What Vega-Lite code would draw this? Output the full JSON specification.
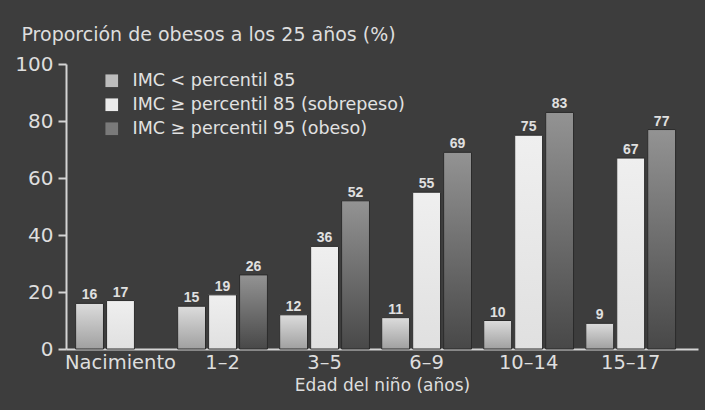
{
  "$schema": "https://vega.github.io/schema/vega-lite/v6.json",
  "width": 632,
  "height": 285,
  "autosize": {"type": "none"},
  "padding": {"left": 66, "top": 64, "right": 7, "bottom": 61},
  "background": "#3d3d3d",
  "config": {
    "view": {"stroke": null},
    "font": "DejaVu Sans",
    "axis": {"domainColor": "#d4d4d4", "domainWidth": 2, "tickColor": "#d4d4d4", "tickWidth": 2, "labelColor": "#dedede", "titleColor": "#dedede", "grid": false, "labelFont": "DejaVu Sans", "titleFont": "DejaVu Sans", "titleFontWeight": "normal"}
  },
  "data": {
    "values": [
      {"edad": "Nacimiento", "serie": "IMC < percentil 85", "valor": 16},
      {"edad": "Nacimiento", "serie": "IMC ≥ percentil 85 (sobrepeso)", "valor": 17},
      {"edad": "1–2", "serie": "IMC < percentil 85", "valor": 15},
      {"edad": "1–2", "serie": "IMC ≥ percentil 85 (sobrepeso)", "valor": 19},
      {"edad": "1–2", "serie": "IMC ≥ percentil 95 (obeso)", "valor": 26},
      {"edad": "3–5", "serie": "IMC < percentil 85", "valor": 12},
      {"edad": "3–5", "serie": "IMC ≥ percentil 85 (sobrepeso)", "valor": 36},
      {"edad": "3–5", "serie": "IMC ≥ percentil 95 (obeso)", "valor": 52},
      {"edad": "6–9", "serie": "IMC < percentil 85", "valor": 11},
      {"edad": "6–9", "serie": "IMC ≥ percentil 85 (sobrepeso)", "valor": 55},
      {"edad": "6–9", "serie": "IMC ≥ percentil 95 (obeso)", "valor": 69},
      {"edad": "10–14", "serie": "IMC < percentil 85", "valor": 10},
      {"edad": "10–14", "serie": "IMC ≥ percentil 85 (sobrepeso)", "valor": 75},
      {"edad": "10–14", "serie": "IMC ≥ percentil 95 (obeso)", "valor": 83},
      {"edad": "15–17", "serie": "IMC < percentil 85", "valor": 9},
      {"edad": "15–17", "serie": "IMC ≥ percentil 85 (sobrepeso)", "valor": 67},
      {"edad": "15–17", "serie": "IMC ≥ percentil 95 (obeso)", "valor": 77}
    ]
  },
  "encoding": {
    "x": {
      "field": "edad", "type": "nominal", "sort": null,
      "scale": {"paddingInner": 0.12, "paddingOuter": 0.157, "align": 0.3},
      "axis": {"labelAngle": 0, "labelFontSize": 19.5, "labelPadding": 4, "ticks": false, "title": "Edad del niño (años)", "titleFontSize": 17, "titlePadding": 6}
    },
    "xOffset": {
      "field": "serie", "type": "nominal",
      "scale": {"domain": ["IMC < percentil 85", "IMC ≥ percentil 85 (sobrepeso)", "IMC ≥ percentil 95 (obeso)"], "paddingInner": 0.1, "paddingOuter": 0}
    },
    "y": {
      "field": "valor", "type": "quantitative",
      "scale": {"domain": [0, 100], "nice": false},
      "axis": {"values": [0, 20, 40, 60, 80, 100], "tickSize": 8, "labelFontSize": 20, "labelPadding": 5, "title": "Proporción de obesos a los 25 años (%)", "titleAngle": 0, "titleAlign": "left", "titleBaseline": "alphabetic", "titleX": -45, "titleY": -24, "titleFontSize": 19}
    }
  },
  "layer": [
    {
      "mark": {"type": "bar"},
      "encoding": {
        "color": {
          "field": "serie", "type": "nominal",
          "scale": {"domain": ["IMC < percentil 85", "IMC ≥ percentil 85 (sobrepeso)", "IMC ≥ percentil 95 (obeso)"], "range": ["#bdbdbd", "#ebebeb", "#7a7a7a"]},
          "legend": {"title": null, "orient": "none", "legendX": 37, "legendY": 8, "symbolType": "square", "symbolSize": 160, "symbolStrokeWidth": 0, "labelFontSize": 17.5, "labelColor": "#e2e2e2", "labelFont": "DejaVu Sans", "labelLimit": 400, "rowPadding": 5, "labelOffset": 12, "symbolOpacity": 1}
        }
      }
    },
    {
      "mark": {"type": "bar", "stroke": "#2a2a2a", "strokeWidth": 1},
      "encoding": {
        "fill": {
          "condition": [
            {"test": "datum.serie === 'IMC < percentil 85'", "value": {"gradient": "linear", "x1": 0, "y1": 0, "x2": 0, "y2": 1, "stops": [{"offset": 0, "color": "#dcdcdc"}, {"offset": 1, "color": "#a0a0a0"}]}},
            {"test": "datum.serie === 'IMC ≥ percentil 95 (obeso)'", "value": {"gradient": "linear", "x1": 0, "y1": 0, "x2": 0, "y2": 1, "stops": [{"offset": 0, "color": "#939393"}, {"offset": 1, "color": "#484848"}]}}
          ],
          "value": {"gradient": "linear", "x1": 0, "y1": 0, "x2": 0, "y2": 1, "stops": [{"offset": 0, "color": "#efefef"}, {"offset": 1, "color": "#e0e0e0"}]}
        }
      }
    },
    {
      "mark": {"type": "text", "dy": -4, "baseline": "alphabetic", "font": "Liberation Sans", "fontSize": 14, "fontWeight": "bold", "color": "#e0e0e0"},
      "encoding": {"text": {"field": "valor", "type": "quantitative"}}
    }
  ]
}
